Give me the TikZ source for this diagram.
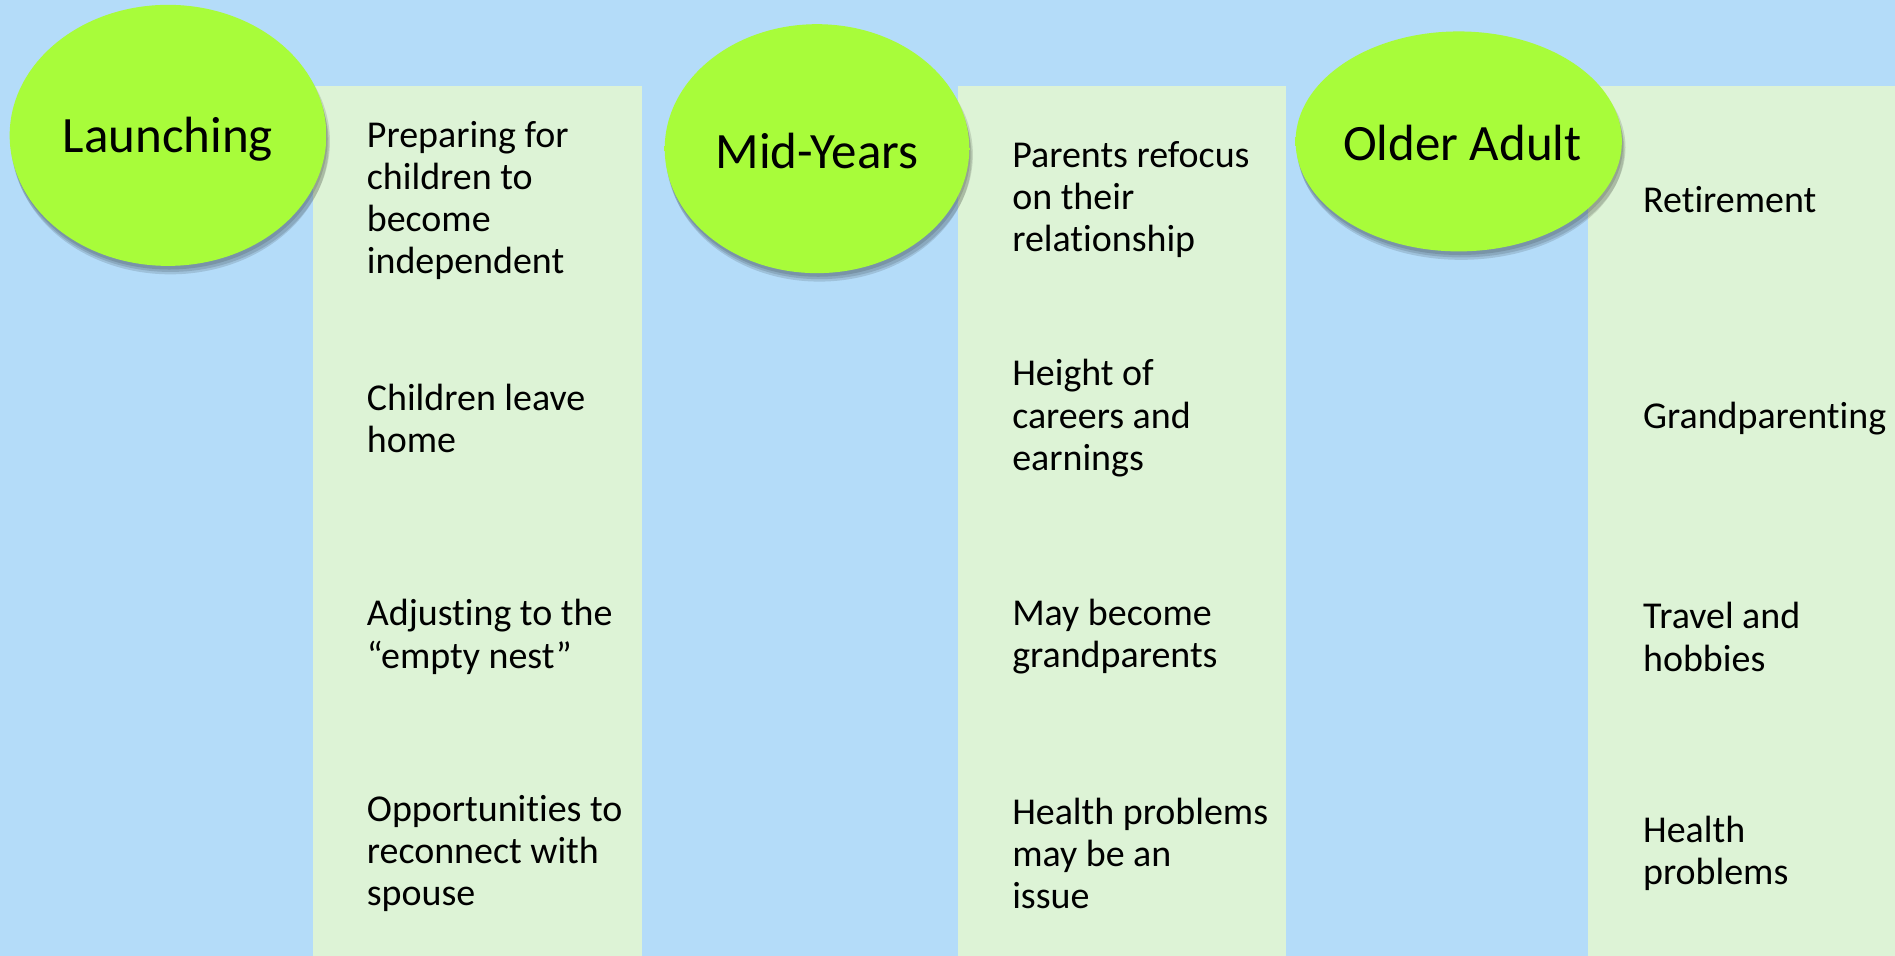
\documentclass[tikz,border=0pt]{standalone}
\usepackage{fontspec}
\setmainfont{Carlito}[Ligatures=NoCommon]
\definecolor{bgblue}{HTML}{B4DCF9}
\definecolor{panelgreen}{HTML}{DDF3D6}
\definecolor{lime}{HTML}{A8FC3A}
\definecolor{limedark}{HTML}{94E52E}
\pgfdeclareradialshading{ballish}{\pgfpoint{0bp}{0bp}}{color(0bp)=(lime); color(36bp)=(lime); color(50bp)=(limedark); color(60bp)=(limedark)}
\tikzset{
  item/.style={anchor=west, align=left, inner sep=0pt, font=\fontsize{10.8}{12}\selectfont, text=black},
  title/.style={inner sep=0pt, font=\fontsize{14.5}{16}\selectfont, text=black},
  panel/.style={fill=panelgreen},
  ballshadow/.style={fill=black, opacity=0.12},
  ball/.style={shading=ballish}
}
\begin{document}
\begin{tikzpicture}[x=0.12086mm,y=-0.12086mm]
\fill[bgblue] (0,0) rectangle (1568,791);
\useasboundingbox (0,0) rectangle (1568,791);
% panels
\fill[panel] (259,71) rectangle (531,791);
\fill[panel] (793,71) rectangle (1064,791);
\fill[panel] (1314,71) rectangle (1568,791);
% ellipses with shadows
\foreach \cx/\cy/\rx/\ry in {139/112/131/108, 676/123/126/103, 1207/117/135/91}{
  \fill[ballshadow] (\cx+2,\cy+7) ellipse [x radius=\rx, y radius=\ry];
  \fill[ballshadow] (\cx+2,\cy+5) ellipse [x radius=\rx+1, y radius=\ry];
  \fill[ballshadow] (\cx+1,\cy+3) ellipse [x radius=\rx, y radius=\ry];
  \shade[ball] (\cx,\cy) ellipse [x radius=\rx, y radius=\ry];
}
\node[title] (t1) at (139,115) {Launching};
\node[title] (t2) at (676,125) {Mid-Years};
\node[title] (t3) at (1210,118) {Older Adult};
% column 1
\node[item] (a1) at (303,166) {Preparing for\\children to\\become\\independent};
\node[item] (a2) at (303,346) {Children leave\\home};
\node[item] (a3) at (303,527) {Adjusting to the\\“empty nest”};
\node[item] (a4) at (303,706) {Opportunities to\\reconnect with\\spouse};
% column 2
\node[item] (b1) at (837,165) {Parents refocus\\on their\\relationship};
\node[item] (b2) at (837,346) {Height of\\careers and\\earnings};
\node[item] (b3) at (837,527) {May become\\grandparents};
\node[item] (b4) at (837,706) {Health problems\\may be an\\issue};
% column 3
\node[item] (c1) at (1359,165) {Retirement};
\node[item] (c2) at (1359,346) {Grandparenting};
\node[item] (c3) at (1359,527) {Travel and\\hobbies};
\node[item] (c4) at (1359,706) {Health\\problems};
\end{tikzpicture}
\end{document}
